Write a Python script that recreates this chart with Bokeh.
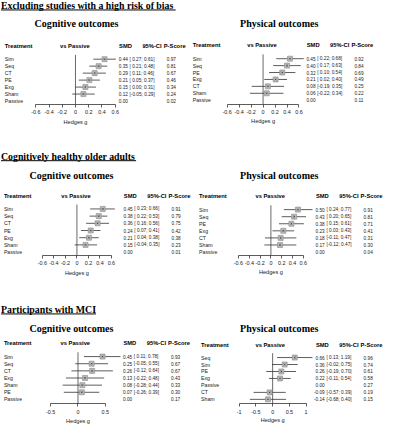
from bokeh.plotting import figure
from bokeh.models import Range1d, LinearAxis, FixedTicker
from bokeh.layouts import column, row
from bokeh.core.properties import value
from bokeh.embed import file_html
from bokeh.resources import INLINE

# ---------------- data ----------------
section_titles = ["Excluding studies with a high risk of bias",
                  "Cognitively healthy older adults",
                  "Participants with MCI"]
outcome_titles = ["Cognitive outcomes", "Physical outcomes"]
header_labels = ["Treatment", "vs Passive", "SMD", "95%-CI", "P-Score"]
axis_title = "Hedges g"

treat_rob_cog = ["Sim", "Seq", "CT", "PE", "Exg", "Sham", "Passive"]
smd_rob_cog = [0.44, 0.35, 0.29, 0.21, 0.15, 0.12, 0.00]
lo_rob_cog = [0.27, 0.21, 0.11, 0.05, 0.00, -0.05, None]
hi_rob_cog = [0.61, 0.48, 0.46, 0.37, 0.31, 0.29, None]
ps_rob_cog = [0.97, 0.81, 0.67, 0.46, 0.34, 0.24, 0.02]

treat_rob_phy = ["Sim", "Seq", "PE", "Exg", "CT", "Sham", "Passive"]
smd_rob_phy = [0.45, 0.40, 0.32, 0.21, 0.08, 0.06, 0.00]
lo_rob_phy = [0.22, 0.17, 0.10, 0.02, -0.19, -0.22, None]
hi_rob_phy = [0.68, 0.63, 0.54, 0.40, 0.35, 0.34, None]
ps_rob_phy = [0.92, 0.84, 0.69, 0.49, 0.25, 0.22, 0.11]

treat_hea_cog = ["Sim", "Seq", "CT", "PE", "Exg", "Sham", "Passive"]
smd_hea_cog = [0.45, 0.38, 0.36, 0.24, 0.21, 0.15, 0.00]
lo_hea_cog = [0.23, 0.22, 0.16, 0.07, 0.04, -0.04, None]
hi_hea_cog = [0.66, 0.53, 0.56, 0.41, 0.38, 0.35, None]
ps_hea_cog = [0.91, 0.79, 0.75, 0.42, 0.38, 0.23, 0.01]

treat_hea_phy = ["Sim", "Seq", "PE", "Exg", "CT", "Sham", "Passive"]
smd_hea_phy = [0.50, 0.43, 0.38, 0.23, 0.18, 0.17, 0.00]
lo_hea_phy = [0.24, 0.20, 0.15, 0.03, -0.11, -0.12, None]
hi_hea_phy = [0.77, 0.65, 0.61, 0.43, 0.47, 0.47, None]
ps_hea_phy = [0.91, 0.81, 0.71, 0.41, 0.31, 0.30, 0.04]

treat_mci_cog = ["Sim", "Seq", "CT", "Exg", "Sham", "PE", "Passive"]
smd_mci_cog = [0.45, 0.25, 0.26, 0.13, 0.08, 0.07, 0.00]
lo_mci_cog = [0.11, -0.05, -0.12, -0.22, -0.28, -0.26, None]
hi_mci_cog = [0.78, 0.55, 0.64, 0.48, 0.44, 0.39, None]
ps_mci_cog = [0.93, 0.67, 0.67, 0.43, 0.33, 0.30, 0.17]

treat_mci_phy = ["Seq", "Sim", "PE", "Exg", "Passive", "CT", "Sham"]
smd_mci_phy = [0.66, 0.36, 0.26, 0.22, 0.00, -0.09, -0.14]
lo_mci_phy = [0.13, -0.02, -0.19, -0.11, None, -0.57, -0.68]
hi_mci_phy = [1.19, 0.75, 0.70, 0.54, None, 0.39, 0.40]
ps_mci_phy = [0.96, 0.74, 0.61, 0.58, 0.27, 0.19, 0.15]

ticks_std = [-0.6, -0.4, -0.2, 0, 0.2, 0.4, 0.6]
tick_labels_std = ["-0.6", "-0.4", "-0.2", "0", "0.2", "0.4", "0.6"]
ticks_mci_cog = [-0.5, 0, 0.5]
tick_labels_mci_cog = ["-0.5", "0", "0.5"]
ticks_mci_phy = [-1, -0.5, 0, 0.5, 1]
tick_labels_mci_phy = ["-1", "-0.5", "0", "0.5", "1"]

# ---------------- layout / style ----------------
S = 0.965          # scale: reference px -> page px
X_OFF, Y_OFF = 1.5, 0.0
SANS = "Liberation Sans"
SERIF = "Liberation Serif"
TXT = "#1a1a1a"


def fsz(px):
    return f"{px * S:.2f}px"


def fmt_ci(l, h):
    if l is None:
        return ""
    ls = f"{l:.2f}"
    if l >= 0:
        ls = " " + ls
    return f"[{ls}; {h:.2f}]"


def panel(cfg, left_c, width_c, top_c, height_c, treat, smd, lo, hi, ps,
          ticks, tick_labels, subtitle, section=None):
    zero, unit = cfg["zero"], cfg["unit"]

    def gx(rx):
        return (rx - zero) / unit

    ref_left = left_c / S + X_OFF
    ref_right = (left_c + width_c) / S + X_OFF
    ref_top = top_c / S + Y_OFF
    ref_bottom = ref_top + height_c / S

    p = figure(width=width_c, height=height_c,
               x_range=Range1d(gx(ref_left), gx(ref_right)),
               y_range=Range1d(ref_bottom, ref_top),
               output_backend="svg", toolbar_location=None,
               x_axis_location=None, y_axis_location=None,
               min_border_left=0, min_border_right=0, min_border_top=0,
               min_border_bottom=0,
               outline_line_color=None, background_fill_color="white",
               border_fill_color="white")
    p.grid.visible = False

    n = len(treat)
    rows = [cfg["row0"] + i * cfg["step"] for i in range(n)]

    # section title with underline
    if section is not None:
        p.text(x=[gx(2)], y=[cfg["sec_y"]], text=[section],
               text_font=value(SERIF), text_font_style="bold",
               text_font_size=value(fsz(10.2)), text_align="left",
               text_baseline="middle", text_color="black")
        p.segment(x0=[gx(2)], x1=[gx(cfg["sec_r"])],
                  y0=[cfg["sec_y"] + 4.8], y1=[cfg["sec_y"] + 4.8],
                  line_color="black", line_width=1)

    # subtitle
    p.text(x=[gx(cfg["sub_x"])], y=[cfg["sub_y"]], text=[subtitle],
           text_font=value(SERIF), text_font_style="bold",
           text_font_size=value(fsz(10.4)), text_align="center",
           text_baseline="middle", text_color="black")

    # column headers
    sr = cfg["smd_r"]
    hx = [gx(cfg["lab_l"]), gx(cfg["vs_x"]), gx(sr - 3), gx(sr + 34.5), gx(sr + 48)]
    hal = ["left", "center", "center", "right", "center"]
    for xx, tt, al in zip(hx, header_labels, hal):
        p.text(x=[xx], y=[cfg["hdr"]], text=[tt], text_font=value(SANS),
               text_font_style="bold", text_font_size=value(fsz(6.0)),
               text_align=al, text_baseline="middle", text_color="black")

    # row labels and value columns
    p.text(x=[gx(cfg["lab_l"])] * n, y=rows, text=treat, text_font=value(SANS),
           text_font_size=value(fsz(5.4)), text_align="left",
           text_baseline="middle", text_color=TXT)
    p.text(x=[gx(sr - 0.5)] * n, y=rows, text=[f"{v:.2f}" for v in smd],
           text_font=value(SANS), text_font_size=value(fsz(4.9)),
           text_align="right", text_baseline="middle", text_color=TXT)
    p.text(x=[gx(sr + 1.2)] * n, y=rows,
           text=[fmt_ci(l, h) for l, h in zip(lo, hi)],
           text_font=value(SANS), text_font_size=value(fsz(4.9)),
           text_align="left", text_baseline="middle", text_color=TXT)
    p.text(x=[gx(sr + 44.5)] * n, y=rows, text=[f"{v:.2f}" for v in ps],
           text_font=value(SANS), text_font_size=value(fsz(4.9)),
           text_align="center", text_baseline="middle", text_color=TXT)

    # reference line at 0
    p.segment(x0=[0], x1=[0], y0=[rows[0] - 4.5], y1=[cfg["axis"]],
              line_color="#444444", line_width=0.8)

    # confidence intervals and squares
    idx = [i for i in range(n) if lo[i] is not None]
    ys = [rows[i] for i in idx]
    p.segment(x0=[lo[i] for i in idx], x1=[hi[i] for i in idx], y0=ys, y1=ys,
              line_color="#333333", line_width=0.8)
    p.scatter(x=[smd[i] for i in idx], y=ys, marker="square", size=5.2 * S,
              fill_color="#b8b8b8", line_color="#8a8a8a", line_width=0.6)
    p.scatter(x=[smd[i] for i in idx], y=ys, marker="x", size=2.2,
              line_color="#222222", line_width=0.6)

    # x axis drawn at a fixed location inside the panel
    ax = LinearAxis(ticker=FixedTicker(ticks=ticks),
                    bounds=(ticks[0], ticks[-1]),
                    fixed_location=cfg["axis"],
                    major_label_overrides={t: l for t, l in zip(ticks, tick_labels)},
                    major_tick_out=3, major_tick_in=0,
                    minor_tick_out=0, minor_tick_in=0,
                    axis_line_color="#333333", axis_line_width=0.8,
                    major_tick_line_color="#333333", major_tick_line_width=0.8,
                    major_label_text_font=SANS,
                    major_label_text_font_size=fsz(5.6),
                    major_label_text_color=TXT,
                    major_label_standoff=3)
    p.add_layout(ax, "below")

    p.text(x=[(ticks[0] + ticks[-1]) / 2], y=[cfg["hedges"]], text=[axis_title],
           text_font=value(SANS), text_font_size=value(fsz(5.8)),
           text_align="center", text_baseline="middle", text_color=TXT)
    return p


cfg1 = dict(zero=79.2, unit=68.5, lab_l=6, vs_x=78.5, smd_r=134, hdr=46.7,
            sub_x=80.3, sub_y=24, row0=60.8, step=7.23, axis=107.5,
            hedges=125.5, sec_y=5.0, sec_r=183)
cfg2 = dict(zero=273.6, unit=62, lab_l=200.7, vs_x=272.5, smd_r=328.5, hdr=46,
            sub_x=290.3, sub_y=24, row0=60.3, step=7.17, axis=107.3,
            hedges=125)
cfg3 = dict(zero=80.7, unit=59.5, lab_l=5, vs_x=79.7, smd_r=139, hdr=202.3,
            sub_x=75, sub_y=181.3, row0=216, step=7.45, axis=264.2,
            hedges=282, sec_y=161.2, sec_r=142)
cfg4 = dict(zero=281.7, unit=56, lab_l=207.3, vs_x=281, smd_r=338, hdr=202.7,
            sub_x=290.3, sub_y=181.3, row0=216.7, step=7.33, axis=264,
            hedges=281.7)
cfg5 = dict(zero=81.8, unit=56.5, lab_l=5, vs_x=79, smd_r=138.5, hdr=355,
            sub_x=75, sub_y=340, row0=369, step=7.4, axis=418,
            hedges=436, sec_y=320, sec_r=100.5)
cfg6 = dict(zero=283.5, unit=34.7, lab_l=209.3, vs_x=281, smd_r=338, hdr=356.7,
            sub_x=290.3, sub_y=340, row0=370, step=7.22, axis=418,
            hedges=435)

LW, RW = 191, 196
tops = [0, 138, 283]
heights = [138, 145, 141]

p1 = panel(cfg1, 0, LW, tops[0], heights[0], treat_rob_cog, smd_rob_cog, lo_rob_cog,
           hi_rob_cog, ps_rob_cog, ticks_std, tick_labels_std, outcome_titles[0],
           section_titles[0])
p2 = panel(cfg2, LW, RW, tops[0], heights[0], treat_rob_phy, smd_rob_phy, lo_rob_phy,
           hi_rob_phy, ps_rob_phy, ticks_std, tick_labels_std, outcome_titles[1])
p3 = panel(cfg3, 0, LW, tops[1], heights[1], treat_hea_cog, smd_hea_cog, lo_hea_cog,
           hi_hea_cog, ps_hea_cog, ticks_std, tick_labels_std, outcome_titles[0],
           section_titles[1])
p4 = panel(cfg4, LW, RW, tops[1], heights[1], treat_hea_phy, smd_hea_phy, lo_hea_phy,
           hi_hea_phy, ps_hea_phy, ticks_std, tick_labels_std, outcome_titles[1])
p5 = panel(cfg5, 0, LW, tops[2], heights[2], treat_mci_cog, smd_mci_cog, lo_mci_cog,
           hi_mci_cog, ps_mci_cog, ticks_mci_cog, tick_labels_mci_cog,
           outcome_titles[0], section_titles[2])
p6 = panel(cfg6, LW, RW, tops[2], heights[2], treat_mci_phy, smd_mci_phy, lo_mci_phy,
           hi_mci_phy, ps_mci_phy, ticks_mci_phy, tick_labels_mci_phy,
           outcome_titles[1])

p = column(row(p1, p2, spacing=0), row(p3, p4, spacing=0),
           row(p5, p6, spacing=0), spacing=0)

open("out.html", "w").write(file_html(p, INLINE))
